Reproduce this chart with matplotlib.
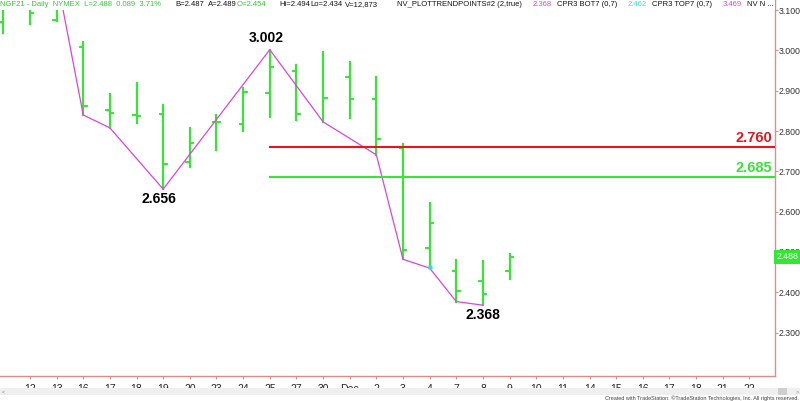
import numpy as np
import matplotlib.pyplot as plt
from matplotlib.patches import Rectangle
import matplotlib.transforms as mtrans

plt.rcParams['font.family'] = ['Liberation Sans', 'DejaVu Sans']

# daty sesji (Nov 11 .. Dec 22)
dates = ['11', '12', '13', '16', '17', '18', '19', '20', '23', '24', '25', '27', '30',
         'Dec', '2', '3', '4', '7', '8', '9', '10', '11', '14', '15', '16', '17',
         '18', '21', '22']

# OHLC (nan = kreska niewidoczna)
nan = np.nan
opens = [3.071, nan, 3.075, 3.008, 2.852, 2.840, 2.842, 2.723, 2.822, 2.817,
         2.895, 2.950, nan, 2.933, 2.880, 2.759, 2.509, 2.454, 2.428, 2.454]
highs = [3.15, 3.15, 3.15, 3.022, 2.891, 2.919, 2.865, 2.808, 2.840, 2.908,
         3.002, 2.964, 2.997, 2.972, 2.933, 2.768, 2.622, 2.480, 2.478, 2.494]
lows = [3.043, 3.066, 3.074, 2.840, 2.808, 2.819, 2.656, 2.712, 2.753, 2.799,
        2.836, 2.828, 2.823, 2.832, 2.741, 2.482, 2.460, 2.377, 2.368, 2.434]
closes = [nan, 3.094, nan, 2.862, 2.844, 2.838, 2.718, 2.770, 2.822, 2.898,
          2.960, 2.843, 2.881, 2.880, 2.780, 2.505, 2.573, 2.403, 2.396, 2.488]

# punkty zwrotne trendu
pivot_idx = [2, 3, 4, 6, 10, 12, 14, 15, 16, 17, 18]
pivot_val = [3.184, 2.840, 2.808, 2.656, 3.002, 2.823, 2.741, 2.482, 2.460, 2.377, 2.368]

# poziomy
red_level = 2.760
green_level = 2.685
level_start = 10
last_price = 2.488

yticks = [2.3, 2.4, 2.5, 2.6, 2.7, 2.8, 2.9, 3.0, 3.1]

GREEN = '#35e635'
MAGENTA = '#dd44dd'
PINK = '#e58a8a'

fig = plt.figure(figsize=(8, 4.01), dpi=100)
ax = fig.add_axes([0, 1 - 376 / 401, 775 / 800, 376 / 401])

ax.set_xlim(-0.124, 28.96)
ax.set_ylim(2.1923, 3.1253)

tw = 0.13
for i in range(len(highs)):
    ax.plot([i, i], [lows[i], highs[i]], color=GREEN, lw=1.6, zorder=2)
    if not np.isnan(opens[i]):
        ax.plot([i - tw, i], [opens[i], opens[i]], color=GREEN, lw=1.4, zorder=2)
    if not np.isnan(closes[i]):
        ax.plot([i, i + tw], [closes[i], closes[i]], color=GREEN, lw=1.4, zorder=2)

ax.plot(pivot_idx, pivot_val, color=MAGENTA, lw=0.9, zorder=3)
ax.plot([16], [2.462], 's', color='#33dddd', ms=2.5, mec='none', zorder=4)

ax.plot([level_start, 28.96], [red_level, red_level], color='#e8141e', lw=1.5, zorder=3)
ax.plot([level_start, 28.96], [green_level, green_level], color=GREEN, lw=1.5, zorder=3)

ax.text(28.84, red_level + 0.005, f'{red_level:.3f}', color='#e8141e', fontsize=10.5,
        fontweight='bold', ha='right', va='bottom')
ax.text(28.84, green_level + 0.005, f'{green_level:.3f}', color=GREEN, fontsize=10.5,
        fontweight='bold', ha='right', va='bottom')

ax.text(9.85, 3.002 + 0.012, '3.002', fontsize=10, fontweight='bold', ha='center', va='bottom')
ax.text(5.85, 2.656 - 0.008, '2.656', fontsize=10, fontweight='bold', ha='center', va='top')
ax.text(18, 2.368 - 0.006, '2.368', fontsize=10, fontweight='bold', ha='center', va='top')

# osie
ax.set_xticks(range(1, len(dates)))
ax.set_xticklabels(dates[1:])
ax.set_yticks(yticks)
ax.set_yticklabels([f'{v:.3f}' for v in yticks])
ax.yaxis.tick_right()
ax.tick_params(axis='y', length=2, pad=0.5, labelsize=6.3, colors=PINK, labelcolor='#333333')
ax.tick_params(axis='x', length=2.5, pad=3, labelsize=7.5, colors=PINK, labelcolor='#222222')
for s in ['top', 'left']:
    ax.spines[s].set_visible(False)
for s in ['right', 'bottom']:
    ax.spines[s].set_color(PINK)
    ax.spines[s].set_linewidth(1)

# biały pasek pod nagłówkiem
ax.add_patch(Rectangle((0, 1 - 10 / 376), 1, 10 / 376, transform=ax.transAxes,
                       facecolor='white', edgecolor='none', zorder=5, clip_on=False))

# etykieta ostatniej ceny
trans = mtrans.blended_transform_factory(ax.transAxes, ax.transData)
ax.text(1.002, last_price, f'{last_price:.3f}', transform=trans, fontsize=6.3, color='white',
        va='center', ha='left', zorder=6,
        bbox=dict(boxstyle='square,pad=0.25', facecolor=GREEN, edgecolor='none'))

# nagłówek
header = [
    (0, 'NGF21 - Daily  NYMEX  L=2.488  0.089  3.71%', '#2fcc2f'),
    (175, 'B=2.487', '#111111'),
    (208, 'A=2.489', '#111111'),
    (237, 'O=2.454', '#2fcc2f'),
    (279, 'Hi=2.494', '#111111'),
    (310, 'Lo=2.434', '#111111'),
    (345, 'V=12,873', '#111111'),
    (397, 'NV_PLOTTRENDPOINTS#2 (2,true)', '#111111'),
    (533, '2.368', MAGENTA),
    (557, 'CPR3 BOT7 (0,7)', '#111111'),
    (628, '2.462', '#33dddd'),
    (652, 'CPR3 TOP7 (0,7)', '#111111'),
    (723, '3.469', MAGENTA),
    (747, 'NV N ...', '#111111'),
]
for x, s, c in header:
    fig.text(x / 800, 1 - 5 / 401, s, color=c, fontsize=5.5, va='center', ha='left', zorder=7)

# pasek przewijania i stopka
fig.patches.append(Rectangle((0, 1 - 395 / 401), 1, 7 / 401, transform=fig.transFigure,
                             facecolor='#efefef', edgecolor='none'))
fig.patches.append(Rectangle((778 / 800, 1 - 395 / 401), 9 / 800, 7 / 401,
                             transform=fig.transFigure, facecolor='#cfcfcf', edgecolor='none'))
fig.text(2 / 800, 1 - 391.5 / 401, '<', fontsize=4, color='#888888', va='center')
fig.text(796 / 800, 1 - 391.5 / 401, '>', fontsize=4, color='#888888', va='center')
fig.text(799 / 800, 1 - 398.5 / 401,
         'Created with TradeStation. \u00a9TradeStation Technologies, Inc. All rights reserved.',
         fontsize=4, color='#444444', ha='right', va='center')

fig.savefig('out.png', dpi=100)
